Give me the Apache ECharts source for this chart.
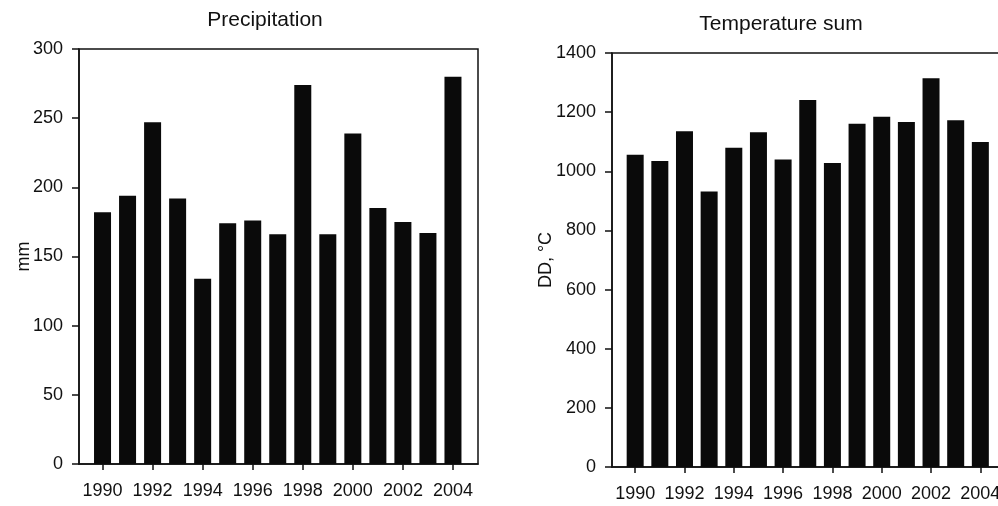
<!DOCTYPE html>
<html>
<head>
    <meta charset="utf-8">
    <title>Precipitation and temperature sum</title>
    <script src="https://cdn.jsdelivr.net/npm/echarts@6/dist/echarts.min.js"></script>
    <style>
        html, body { margin: 0; padding: 0; background: #fff; overflow: hidden; }
        /* a bit wider than the window: the right panel is cut off at the edge, as in the scan */
        #main { width: 1006px; height: 506px; }
    </style>
</head>
<body>
    <div id="main"></div>
    <script type="text/javascript">
        // data
        var years = [1990, 1991, 1992, 1993, 1994, 1995, 1996, 1997, 1998, 1999, 2000, 2001, 2002, 2003, 2004];
        var precip = [182, 194, 247, 192, 134, 174, 176, 166, 274, 166, 239, 185, 175, 167, 280];
        var tempSum = [1056, 1035, 1135, 932, 1080, 1132, 1040, 1241, 1028, 1161, 1184, 1167, 1315, 1173, 1099];
        var yearTicks = [1990, 1992, 1994, 1996, 1998, 2000, 2002, 2004];

        var font = 'Liberation Sans, Arial, sans-serif';
        var ink = '#111';

        var chart = echarts.init(document.getElementById('main'), null, { renderer: 'canvas' });

        function xAxis(idx) {
            return {
                type: 'value',
                gridIndex: idx,
                min: 1989.06,
                max: 2005,
                splitLine: { show: false },
                axisLine: { show: true, lineStyle: { color: ink, width: 1.5 } },
                axisTick: { show: true, customValues: yearTicks, length: 6, lineStyle: { color: ink, width: 1.5 } },
                axisLabel: {
                    customValues: yearTicks,
                    formatter: function (v) { return String(v); },
                    color: ink, fontFamily: font, fontSize: 18, margin: 18
                }
            };
        }

        function yAxis(idx, max, interval, name, gap) {
            return {
                type: 'value',
                gridIndex: idx,
                min: 0,
                max: max,
                interval: interval,
                name: name,
                nameLocation: 'middle',
                nameRotate: 90,
                nameGap: gap,
                nameMoveOverlap: false,
                nameTextStyle: { color: ink, fontFamily: font, fontSize: 18 },
                splitLine: { show: false },
                axisLine: { show: true, lineStyle: { color: ink, width: 1.5 } },
                axisTick: { show: true, length: 7, lineStyle: { color: ink, width: 1.5 } },
                axisLabel: {
                    formatter: function (v) { return String(v); },
                    color: ink, fontFamily: font, fontSize: 18, margin: 16
                }
            };
        }

        function pairs(vals) {
            return years.map(function (y, i) { return [y, vals[i]]; });
        }

        var option = {
            animation: false,
            backgroundColor: '#fff',
            graphic: [
                { type: 'text', x: 265, y: 20, style: { text: 'Precipitation', textAlign: 'center', textVerticalAlign: 'middle', fill: ink, font: '21px ' + font } },
                { type: 'text', x: 781, y: 24, style: { text: 'Temperature sum', textAlign: 'center', textVerticalAlign: 'middle', fill: ink, font: '21px ' + font } }
            ],
            grid: [
                { left: 79, top: 49, right: 528, bottom: 42, show: true, borderColor: ink, borderWidth: 1.5 },
                { left: 612, top: 53, right: 1, bottom: 39, show: true, borderColor: ink, borderWidth: 1.5 }
            ],
            xAxis: [xAxis(0), xAxis(1)],
            yAxis: [
                yAxis(0, 300, 50, 'mm', 46),
                yAxis(1, 1400, 200, 'DD, °C', 57)
            ],
            series: [
                {
                    type: 'bar', xAxisIndex: 0, yAxisIndex: 0,
                    barWidth: 17,
                    itemStyle: { color: '#0a0a0a' },
                    data: pairs(precip)
                },
                {
                    type: 'bar', xAxisIndex: 1, yAxisIndex: 1,
                    barWidth: 17,
                    itemStyle: { color: '#0a0a0a' },
                    data: pairs(tempSum)
                }
            ]
        };

        chart.setOption(option);
    </script>
</body>
</html>
